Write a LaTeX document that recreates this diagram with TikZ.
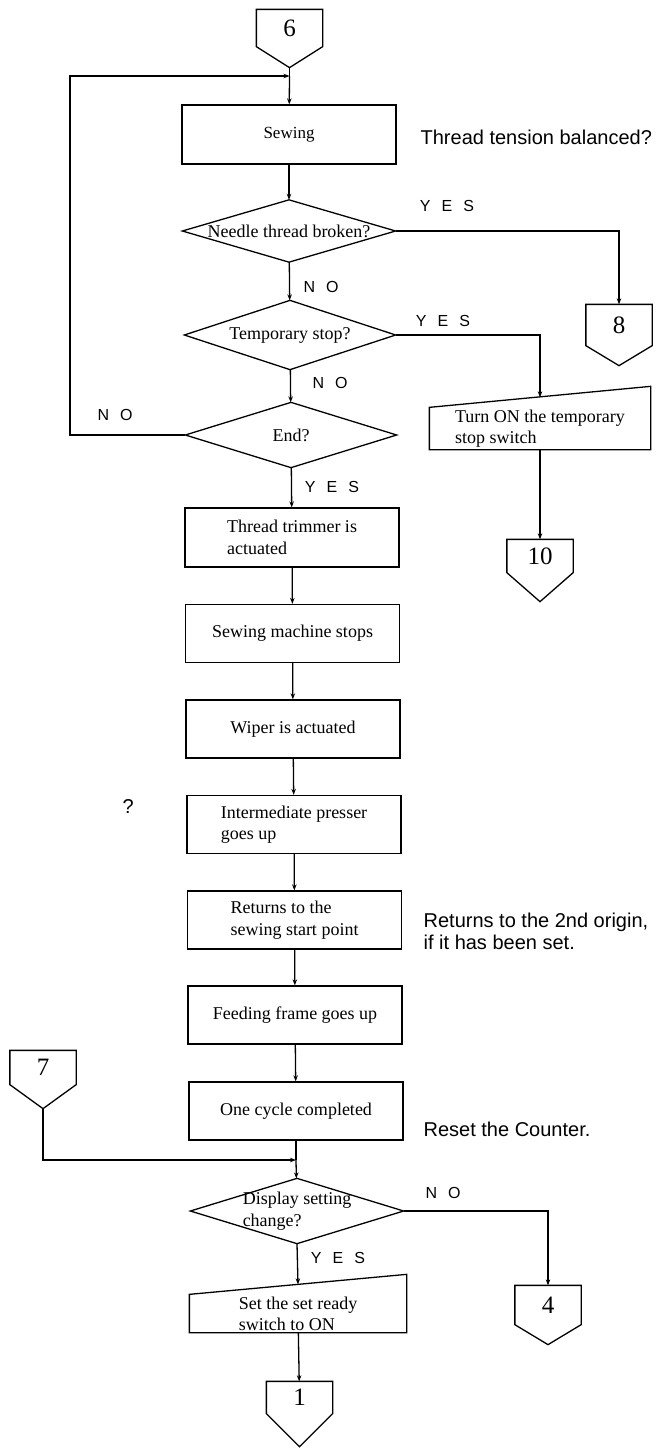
\documentclass[tikz,border=0pt]{standalone}
\usepackage{fontspec}
\setmainfont{Liberation Serif}
\newfontfamily\notefont{Liberation Sans}
\usetikzlibrary{arrows.meta}
\newcommand\widespaces{\spaceskip=11pt\relax}

\begin{document}
\begin{tikzpicture}[x=1pt, y=-1pt, line width=1.3pt,
    >={Stealth[length=6pt,width=4.5pt]},
    proc/.style={draw, minimum width=214pt, minimum height=58pt, inner sep=0pt,
        align=left, font=\fontsize{18}{21.5}\selectfont},
    decision/.style={minimum width=212pt, minimum height=64pt, inner sep=0pt,
        align=left, font=\fontsize{18}{21.5}\selectfont},
    manual/.style={minimum width=220pt, inner sep=0pt, align=left,
        font=\fontsize{18}{21}\selectfont},
    offpage/.style={minimum width=65pt, minimum height=38pt, inner sep=0pt,
        font=\fontsize{25}{25}\selectfont},
    yesno/.style={inner sep=0pt, font=\notefont\fontsize{16}{16}\selectfont\widespaces},
    note/.style={anchor=west, inner sep=0pt, align=left,
        font=\notefont\fontsize{20}{22}\selectfont}]

\useasboundingbox (0,0) rectangle (667,1448);

    % Off-page connectors
    \node[offpage, minimum height=36pt] (c6) at (289.5,28) {6};
    \node[offpage, minimum height=40pt] (c8) at (619,325) {8};
    \node[offpage, minimum height=32pt] (c10) at (540,556) {10};
    \node[offpage, minimum height=33pt] (c7) at (43,1067.5) {7};
    \node[offpage] (c4) at (548,1305) {4};
    \node[offpage, minimum height=31pt] (c1) at (299.5,1397.5) {1};
    \foreach \c/\t in {c6/21,c8/20,c10/29,c7/24,c4/20,c1/33}{
        \draw (\c.north west) -- (\c.south west) -- ([yshift=-\t pt]\c.south)
            -- (\c.south east) -- (\c.north east) -- cycle;
        \coordinate (\c-tip) at ([yshift=-\t pt]\c.south);
    }

    % Main column
    \coordinate (j1) at (289.5,76);
    \node[proc, minimum height=59pt, font=\fontsize{17}{20}\selectfont] (sew) at (289,134.5) {Sewing};
    \node[decision, minimum height=61pt] (d1) at (289,231) {Needle thread broken?};
    \node[decision, minimum width=210pt, minimum height=68pt] (d2) at (290,335) {Temporary stop?};
    \node[decision, minimum width=210pt] (d3) at (291,435) {End?};
    \node[proc, minimum height=59pt] (trim) at (292,537.5) {Thread trimmer is\\actuated};
    \node[proc] (stops) at (292.5,633.5) {Sewing machine stops};
    \node[proc] (wiper) at (293,729) {Wiper is actuated};
    \node[proc] (interm) at (294,824.5) {Intermediate presser\\goes up};
    \node[proc] (returns) at (294.5,920) {Returns to the\\sewing start point};
    \node[proc] (feeding) at (295,1015) {Feeding frame goes up};
    \node[proc] (onecycle) at (296,1111) {One cycle completed};
    \coordinate (j2) at (296,1160);
    \node[decision] (d4) at (297,1211) {Display setting\\change?};
    \node[manual, minimum width=216pt, minimum height=37pt] (setready) at (298,1313.5)
        {Set the set ready\\switch to ON};

    % Side branch
    \node[manual, minimum height=41pt] (turnon) at (540,428.5) {Turn ON the temporary\\stop switch};

    % Diamonds and manual inputs
    \foreach \d in {d1,d2,d3,d4}
        \draw (\d.north) -- (\d.east) -- (\d.south) -- (\d.west) -- cycle;
    \foreach \m/\s in {turnon/21,setready/20}
        \draw (\m.south west) -- (\m.north west) -- ([yshift=\s pt]\m.north east)
            -- (\m.south east) -- cycle;

    % Labels
    \node[yesno] (yes1) at (447,206) {Y E S};
    \node[yesno] (no1) at (321,287) {N O};
    \node[yesno] (yes2) at (443,321) {Y E S};
    \node[yesno] (no2) at (330,383) {N O};
    \node[yesno] (noL) at (115,415) {N O};
    \node[yesno] (yes3) at (332,487) {Y E S};
    \node[yesno] (no4) at (443,1193) {N O};
    \node[yesno] (yes4) at (338,1258) {Y E S};

    % Notes
    \node[note] (tension) at (420,137) {Thread tension balanced?};
    \node[note] (qmark) at (122,807) {?};
    \node[note] (origin) at (423,931) {Returns to the 2nd origin,\\if it has been set.};
    \node[note] (reset) at (423,1129) {Reset the Counter.};

    % Flow lines
    \coordinate (loopx) at (70,0);
    \draw (c6-tip) -- (j1);
    \draw[->] (j1) -- (sew);
    \draw[->] (sew) -- (d1);
    \draw[->] (d1) -- (d2);
    \draw[->] (d2) -- (d3);
    \draw[->] (d3) -- (trim);
    \draw[->] (trim) -- (stops);
    \draw[->] (stops) -- (wiper);
    \draw[->] (wiper) -- (interm);
    \draw[->] (interm) -- (returns);
    \draw[->] (returns) -- (feeding);
    \draw[->] (feeding) -- (onecycle);
    \draw (onecycle) -- (j2);
    \draw[->] (j2) -- (d4);
    \draw[->] (d4.south) -- ([yshift=10pt]setready.north);
    \draw[->] (setready) -- (c1);
    \draw[->] (d3.west) -- (d3.west -| loopx) |- (j1);
    \draw[->] (d1.east) -| (c8);
    \draw[->] (d2.east) -| ([yshift=10pt]turnon.north);
    \draw[->] (turnon) -- (c10);
    \draw[->] (c7-tip) |- (j2);
    \draw[->] (d4.east) -| (c4);

\end{tikzpicture}
\end{document}
